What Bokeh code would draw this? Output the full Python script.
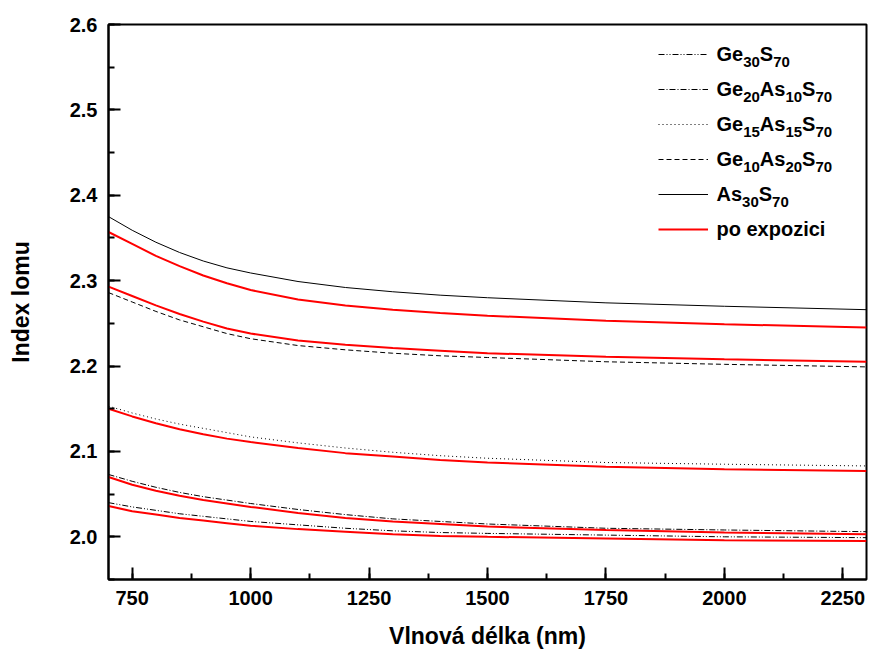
from bokeh.plotting import figure
from bokeh.models import Range1d, SingleIntervalTicker, PrintfTickFormatter, Legend, LegendItem, Label
from bokeh.core.properties import value
from bokeh.embed import file_html
from bokeh.resources import INLINE

# Wavelength (nm)
wavelength = [700, 750, 800, 850, 900, 950, 1000, 1100, 1200, 1300, 1400, 1500, 1750, 2000, 2300]

# Refractive index before exposure (black curves)
ge30_s70 = [2.040, 2.035, 2.031, 2.027, 2.024, 2.021, 2.018, 2.014, 2.010, 2.007, 2.005, 2.004, 2.002, 2.000, 1.999]
ge20_as10_s70 = [2.073, 2.065, 2.058, 2.052, 2.047, 2.043, 2.039, 2.032, 2.026, 2.021, 2.018, 2.015, 2.010, 2.008, 2.006]
ge15_as15_s70 = [2.153, 2.145, 2.138, 2.132, 2.127, 2.122, 2.117, 2.110, 2.104, 2.099, 2.095, 2.092, 2.087, 2.085, 2.083]
ge10_as20_s70 = [2.286, 2.275, 2.264, 2.254, 2.246, 2.238, 2.232, 2.224, 2.219, 2.215, 2.212, 2.210, 2.205, 2.202, 2.199]
as30_s70 = [2.375, 2.359, 2.345, 2.333, 2.323, 2.315, 2.309, 2.299, 2.292, 2.287, 2.283, 2.280, 2.274, 2.270, 2.266]

# Refractive index after exposure (red curves)
exp_ge30_s70 = [2.036, 2.030, 2.026, 2.022, 2.019, 2.016, 2.013, 2.009, 2.006, 2.003, 2.001, 2.000, 1.998, 1.996, 1.995]
exp_ge20_as10_s70 = [2.070, 2.061, 2.054, 2.048, 2.043, 2.039, 2.035, 2.028, 2.022, 2.018, 2.015, 2.012, 2.008, 2.005, 2.003]
exp_ge15_as15_s70 = [2.150, 2.141, 2.133, 2.126, 2.120, 2.115, 2.111, 2.104, 2.098, 2.094, 2.090, 2.087, 2.082, 2.079, 2.077]
exp_ge10_as20_s70 = [2.293, 2.282, 2.271, 2.261, 2.252, 2.244, 2.238, 2.230, 2.225, 2.221, 2.218, 2.215, 2.211, 2.208, 2.205]
exp_as30_s70 = [2.357, 2.343, 2.329, 2.317, 2.306, 2.297, 2.289, 2.278, 2.271, 2.266, 2.262, 2.259, 2.253, 2.249, 2.245]

# Legend labels as (text, is_subscript) pieces
legend_labels = [
    [("Ge", False), ("30", True), ("S", False), ("70", True)],
    [("Ge", False), ("20", True), ("As", False), ("10", True), ("S", False), ("70", True)],
    [("Ge", False), ("15", True), ("As", False), ("15", True), ("S", False), ("70", True)],
    [("Ge", False), ("10", True), ("As", False), ("20", True), ("S", False), ("70", True)],
    [("As", False), ("30", True), ("S", False), ("70", True)],
    [("po expozici", False)],
]

FONT = "Liberation Sans"
X0, X1, Y0, Y1 = 700, 2300, 1.95, 2.6
FL, FT, FW, FH = 108, 24, 758, 555  # frame left/top/width/height in px


def px_to_x(px):
    return X0 + (px - FL) * (X1 - X0) / FW


def py_to_y(py):
    return Y1 - (py - FT) * (Y1 - Y0) / FH


p = figure(width=869, height=657, output_backend="svg", toolbar_location=None,
           x_range=Range1d(X0, X1), y_range=Range1d(Y0, Y1),
           min_border_left=FL, min_border_right=869 - FL - FW, min_border_top=FT,
           min_border_bottom=657 - FT - FH,
           background_fill_color="white", border_fill_color="white")
p.grid.visible = False
p.outline_line_color = "black"
p.outline_line_width = 2

black_styles = [
    (ge30_s70, "6 2 1 2 1 2"),
    (ge20_as10_s70, "6 2 1 2"),
    (ge15_as15_s70, "1 3"),
    (ge10_as20_s70, "5 3"),
    (as30_s70, "solid"),
]
black_r = []
for ys, dash in black_styles:
    r = p.line(wavelength, ys, line_color="black", line_width=1, line_dash=dash)
    black_r.append(r)

red_r = []
for ys in [exp_ge30_s70, exp_ge20_as10_s70, exp_ge15_as15_s70, exp_ge10_as20_s70, exp_as30_s70]:
    r = p.line(wavelength, ys, line_color="#ff0000", line_width=2)
    red_r.append(r)

# legend sample lines (labels drawn separately to allow subscripts)
items = [LegendItem(label=value(" "), renderers=[black_r[i]]) for i in range(5)]
items.append(LegendItem(label=value(" "), renderers=[red_r[0]]))
ROW0, ROWSTEP, ITEMH, SPACING = 54, 35, 20, 15
legend_top = ROW0 - ITEMH / 2
legend_h = 6 * ITEMH + 5 * SPACING
legend = Legend(items=items, location=(658 - FL, FT + FH - (legend_top + legend_h)),
                border_line_color=None, background_fill_alpha=0, padding=0, margin=0,
                spacing=SPACING, glyph_width=50, glyph_height=ITEMH, label_height=ITEMH,
                label_standoff=8, label_text_font_size="1px")
p.add_layout(legend)

# legend texts with subscripts
MAIN_SIZE, SUB_SIZE = 20, 15
widths = {"G": 0.778, "e": 0.556, "A": 0.722, "s": 0.556, "S": 0.667}
for i, pieces in enumerate(legend_labels):
    yc = ROW0 + ROWSTEP * i
    xpos = 716.0
    for txt, sub in pieces:
        size = SUB_SIZE if sub else MAIN_SIZE
        base = yc + (16.7 if sub else 8.3) - 9
        p.add_layout(Label(x=px_to_x(xpos), y=py_to_y(base), text=txt,
                           text_font=FONT, text_font_style="bold",
                           text_font_size=f"{size}px", text_color="black",
                           text_align="left", text_baseline="alphabetic"))
        if sub:
            xpos += 0.556 * len(txt) * size
        else:
            xpos += sum(widths.get(c, 0.556) for c in txt) * size

for ax in (p.xaxis[0], p.yaxis[0]):
    ax.axis_line_width = 2
    ax.axis_line_color = "black"
    ax.major_tick_line_width = 2
    ax.minor_tick_line_width = 2
    ax.major_tick_in = 12
    ax.major_tick_out = 0
    ax.minor_tick_in = 6
    ax.minor_tick_out = 0
    ax.major_label_text_font = FONT
    ax.major_label_text_font_style = "bold"
    ax.major_label_text_font_size = "20px"
    ax.major_label_text_color = "black"
    ax.axis_label_text_font = FONT
    ax.axis_label_text_font_style = "bold"
    ax.axis_label_text_font_size = "23px"
    ax.axis_label_text_color = "black"

p.xaxis[0].ticker = SingleIntervalTicker(interval=250, num_minor_ticks=2)
p.yaxis[0].ticker = SingleIntervalTicker(interval=0.1, num_minor_ticks=2)
p.yaxis[0].formatter = PrintfTickFormatter(format="%.1f")
p.xaxis[0].axis_label = "Vlnová délka (nm)"
p.yaxis[0].axis_label = "Index lomu"
p.xaxis[0].major_label_standoff = 11
p.yaxis[0].major_label_standoff = 11
p.xaxis[0].axis_label_standoff = 15
p.yaxis[0].axis_label_standoff = 33

open("out.html", "w").write(file_html(p, INLINE))
